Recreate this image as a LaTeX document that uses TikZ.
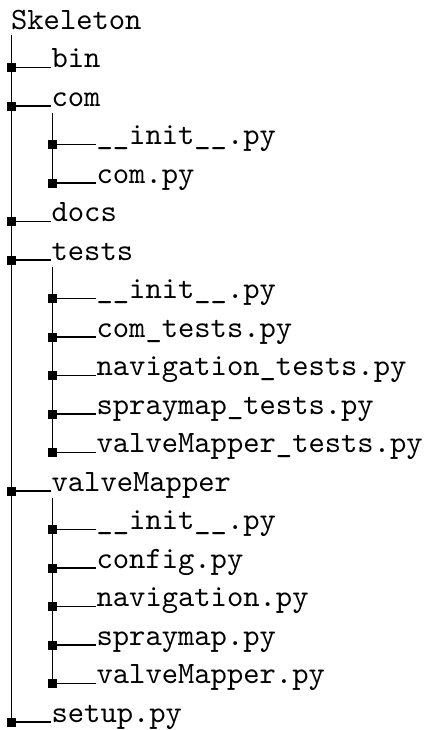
\documentclass[tikz,border=0pt]{standalone}
\usepackage{tikz}
\usetikzlibrary{positioning}

\tikzset{
  entry/.style={anchor=base west, inner sep=0pt,
    font=\fontsize{10pt}{12pt}\selectfont\ttfamily},
  dot/.style={fill=black, minimum size=2.9pt, inner sep=0pt},
  branch/.style={line width=0.4pt},
}

\begin{document}
\begin{tikzpicture}[x=0.322pt, y=-0.322pt]
    \useasboundingbox (0,0) rectangle (424,730);

    % the root folder
    \node[entry] (skel) at (10.5,29) {Skeleton};
    \coordinate (skel-stem) at (11.3,35);

    % first level: squares on the stem, names to the right
    \node[dot] (d-bin)   at (11.3,67.5) {};
    \node[dot] (d-com)   at (11.3,106)  {};
    \node[dot] (d-docs)  at (11.3,221.5) {};
    \node[dot] (d-tests) at (11.3,260)  {};
    \node[dot] (d-valve) at (11.3,491)  {};
    \node[dot] (d-setup) at (11.3,722)  {};

    \node[entry] (bin)   at (51,67.5)  {bin};
    \node[entry] (com)   at (51,106)   {com};
    \node[entry] (docs)  at (51,221.5) {docs};
    \node[entry] (tests) at (51,260)   {tests};
    \node[entry] (valve) at (51,491)   {valveMapper};
    \node[entry] (setup) at (51,722)   {setup.py};

    % the stem of the root
    \draw[branch] (skel-stem) -- (d-setup.center);
    \draw[branch] (d-bin.center)   -- (bin.base west);
    \draw[branch] (d-com.center)   -- (com.base west);
    \draw[branch] (d-docs.center)  -- (docs.base west);
    \draw[branch] (d-tests.center) -- (tests.base west);
    \draw[branch] (d-valve.center) -- (valve.base west);
    \draw[branch] (d-setup.center) -- (setup.base west);

    % files in com
    \coordinate (com-stem) at (52.7,113);
    \node[dot] (d-c-init) at (52.7,144.5) {};
    \node[dot] (d-c-com)  at (52.7,183)   {};
    \node[entry] (c-init) at (96,144.5) {\_\_init\_\_.py};
    \node[entry] (c-com)  at (96,183)   {com.py};
    \draw[branch] (com-stem) -- (d-c-com.center);
    \draw[branch] (d-c-init.center) -- (c-init.base west);
    \draw[branch] (d-c-com.center)  -- (c-com.base west);

    % files in tests
    \coordinate (tests-stem) at (52.7,267);
    \node[dot] (d-t-init)  at (52.7,298.5) {};
    \node[dot] (d-t-com)   at (52.7,337)   {};
    \node[dot] (d-t-nav)   at (52.7,375.5) {};
    \node[dot] (d-t-spray) at (52.7,414)   {};
    \node[dot] (d-t-valve) at (52.7,452.5) {};
    \node[entry] (t-init)  at (96,298.5) {\_\_init\_\_.py};
    \node[entry] (t-com)   at (96,337)   {com\_tests.py};
    \node[entry] (t-nav)   at (96,375.5) {navigation\_tests.py};
    \node[entry] (t-spray) at (96,414)   {spraymap\_tests.py};
    \node[entry] (t-valve) at (96,452.5) {valveMapper\_tests.py};
    \draw[branch] (tests-stem) -- (d-t-valve.center);
    \draw[branch] (d-t-init.center)  -- (t-init.base west);
    \draw[branch] (d-t-com.center)   -- (t-com.base west);
    \draw[branch] (d-t-nav.center)   -- (t-nav.base west);
    \draw[branch] (d-t-spray.center) -- (t-spray.base west);
    \draw[branch] (d-t-valve.center) -- (t-valve.base west);

    % files in valveMapper
    \coordinate (valve-stem) at (52.7,498);
    \node[dot] (d-v-init)  at (52.7,529.5) {};
    \node[dot] (d-v-conf)  at (52.7,568)   {};
    \node[dot] (d-v-nav)   at (52.7,606.5) {};
    \node[dot] (d-v-spray) at (52.7,645)   {};
    \node[dot] (d-v-valve) at (52.7,683.5) {};
    \node[entry] (v-init)  at (96,529.5) {\_\_init\_\_.py};
    \node[entry] (v-conf)  at (96,568)   {config.py};
    \node[entry] (v-nav)   at (96,606.5) {navigation.py};
    \node[entry] (v-spray) at (96,645)   {spraymap.py};
    \node[entry] (v-valve) at (96,683.5) {valveMapper.py};
    \draw[branch] (valve-stem) -- (d-v-valve.center);
    \draw[branch] (d-v-init.center)  -- (v-init.base west);
    \draw[branch] (d-v-conf.center)  -- (v-conf.base west);
    \draw[branch] (d-v-nav.center)   -- (v-nav.base west);
    \draw[branch] (d-v-spray.center) -- (v-spray.base west);
    \draw[branch] (d-v-valve.center) -- (v-valve.base west);

\end{tikzpicture}
\end{document}
